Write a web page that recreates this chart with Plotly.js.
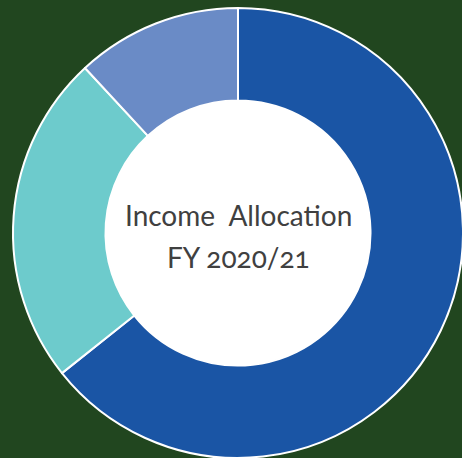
<!DOCTYPE html>
<html>
<head>
<meta charset="utf-8">
<script src="https://cdn.plot.ly/plotly-3.0.1.min.js"></script>
<style>
html, body { margin: 0; padding: 0; overflow: hidden; background: #21461f; }
#chart { width: 476px; height: 466px; }
.annotation-text { font-variant-numeric: oldstyle-nums; font-feature-settings: "onum" 1; }
</style>
</head>
<body>
<div id="chart"></div>
<script>
const categories = ["Category A", "Category B", "Category C"];
const values = [64.3, 23.8, 11.9];
const colors = ["#1a55a5", "#6dcbcc", "#6a8bc6"];
const centerLines = ["Income\u00a0 Allocation", "FY 2020/21"];

const textFont = { family: "Lato, 'Open Sans', sans-serif", size: 28, color: "#404040", weight: 400 };

Plotly.newPlot("chart", [{
  type: "pie",
  labels: categories,
  values: values,
  hole: 0.589,
  sort: false,
  direction: "clockwise",
  rotation: 0,
  textinfo: "none",
  hoverinfo: "none",
  showlegend: false,
  marker: { colors: colors, line: { color: "#ffffff", width: 2 } }
}], {
  width: 476,
  height: 466,
  margin: { l: 13, r: 13, t: 8, b: 8, pad: 0 },
  paper_bgcolor: "#21461f",
  plot_bgcolor: "#21461f",
  showlegend: false,
  shapes: [{
    type: "circle", xref: "paper", yref: "paper", layer: "below",
    x0: 0.2056, x1: 0.7944, y0: 0.2056, y1: 0.7944,
    fillcolor: "#ffffff", line: { width: 0 }
  }],
  annotations: [
    { text: centerLines[0], x: 0.5, y: 0.54, xref: "paper", yref: "paper",
      showarrow: false, font: textFont },
    { text: centerLines[1], x: 0.5, y: 0.4467, xref: "paper", yref: "paper",
      showarrow: false, font: textFont }
  ]
}, { displayModeBar: false, staticPlot: true });
</script>
</body>
</html>
